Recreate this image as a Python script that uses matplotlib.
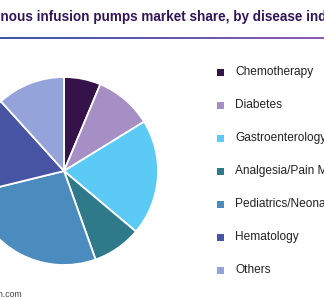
import matplotlib
matplotlib.use("Agg")
import matplotlib.pyplot as plt
import numpy as np
from matplotlib.patches import Rectangle
from matplotlib.colors import LinearSegmentedColormap

plt.rcParams['font.family'] = ['Liberation Sans', 'DejaVu Sans']

categories = ["Chemotherapy", "Diabetes", "Gastroenterology", "Analgesia/Pain Management",
              "Pediatrics/Neonatology", "Hematology", "Others"]
shares = [6.3, 9.9, 19.9, 8.4, 26.6, 17.1, 11.7]
colors = ["#35124a", "#a68fc4", "#5bcbf5", "#2f7a8a", "#4c8bbe", "#4753a3", "#95a3db"]
title_prefix = "U.S. intrave"
title_text = "U.S. intravenous infusion pumps market share, by disease indication, 2016"
source_text = "Source: www.grandviewresearch.com"

W, H = 324, 300
fig = plt.figure(figsize=(W / 100, H / 100), dpi=100)

# pie
cx, cy, r = 64, 171, 94
ax = fig.add_axes([(cx - r) / W, (H - cy - r) / H, 2 * r / W, 2 * r / H])
ax.pie(shares, colors=colors, startangle=90, counterclock=False, radius=1,
       wedgeprops=dict(edgecolor="white", linewidth=1.3))
ax.set_xlim(-1, 1)
ax.set_ylim(-1, 1)
ax.set_aspect("auto")
ax.axis("off")

renderer = fig.canvas.get_renderer()

# title (clipped by figure edges like the reference)
tfs = 9.72
tp = fig.text(0, 0, title_prefix, fontsize=tfs, fontweight="bold")
wpre = tp.get_window_extent(renderer).width
tp.remove()
fig.text((-wpre + 0.5) / W, 1 - 21 / H, title_text, fontsize=tfs, fontweight="bold",
         color="#33165a", ha="left", va="baseline")

# gradient rule under the title
lax = fig.add_axes([0, 1 - 39 / H, 1, 2 / H])
grad = np.linspace(0, 1, 256)[None, :]
cmap = LinearSegmentedColormap.from_list("g", ["#3f55a8", "#8a5cb0"])
lax.imshow(grad, aspect="auto", cmap=cmap)
lax.axis("off")

# legend
y0, dy = 72, 33
for i, (lab, col) in enumerate(zip(categories, colors)):
    y = y0 + i * dy
    fig.patches.append(Rectangle((217 / W, 1 - (y + 3.5) / H), 7 / W, 7 / H,
                                 transform=fig.transFigure, facecolor=col, edgecolor="none"))
    fig.text(235 / W, 1 - y / H, lab, fontsize=8.6, color="#222222", ha="left", va="center")

# source (clipped at the left edge)
sfs = 6.2
tp = fig.text(0, 0, "Source: www.grandviewresearc", fontsize=sfs)
wsrc = tp.get_window_extent(renderer).width
tp.remove()
fig.text((-wsrc - 1.5) / W, 1 - 297 / H, source_text, fontsize=sfs, color="#444444",
         ha="left", va="baseline")

fig.savefig("out.png", dpi=100)
